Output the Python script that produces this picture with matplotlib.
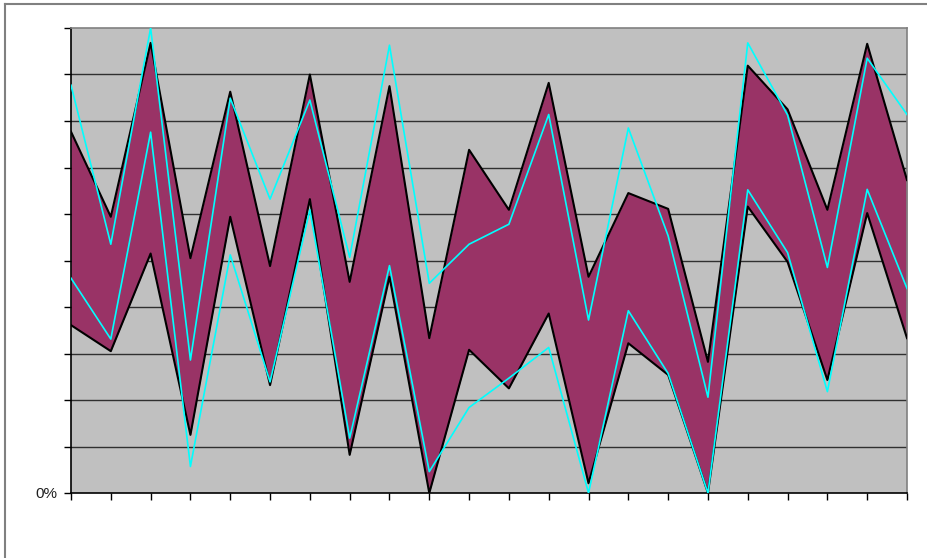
import numpy as np
import matplotlib
matplotlib.use("Agg")
import matplotlib.pyplot as plt
from matplotlib.lines import Line2D

# band limits and the two cyan series, in percent
upper = [77.7, 59.4, 96.8, 50.5, 86.3, 48.8, 90.0, 45.4, 87.5, 33.3, 73.8,
         60.9, 88.2, 46.5, 64.5, 61.1, 28.2, 91.9, 82.5, 60.9, 96.6, 67.3]
lower = [36.1, 30.5, 51.5, 12.5, 59.4, 23.2, 63.2, 8.2, 46.5, 0.0, 30.8,
         22.5, 38.6, 2.1, 32.2, 25.4, 0.0, 61.6, 49.7, 24.3, 60.2, 33.3]
cyan_hi = [87.7, 53.5, 100.0, 28.6, 84.9, 63.2, 84.5, 50.7, 96.3, 45.1, 53.5,
           57.8, 81.4, 37.2, 78.5, 55.3, 20.6, 96.8, 81.3, 48.5, 93.5, 81.4]
cyan_lo = [46.2, 33.1, 77.6, 5.7, 51.2, 23.9, 60.9, 11.8, 48.9, 4.6, 18.4,
           24.7, 31.3, 0.0, 39.2, 25.7, 0.0, 65.2, 51.7, 21.8, 65.3, 44.0]
y_ticks = np.arange(0, 101, 10)
y_labels = ["0%"] + [""] * 10

x = np.arange(len(upper))

fig = plt.figure(figsize=(9.27, 5.58), dpi=100)
fig.patch.set_facecolor("white")

# outer chart frame
fig.add_artist(Line2D([4.5 / 927, 4.5 / 927], [0, 1 - 3.5 / 558],
                      transform=fig.transFigure, color="#808080", lw=1.5))
fig.add_artist(Line2D([4.5 / 927, 1], [1 - 3.5 / 558, 1 - 3.5 / 558],
                      transform=fig.transFigure, color="#808080", lw=1.5))

ax = fig.add_axes([71 / 927, (558 - 493) / 558, 836 / 927, 465 / 558])
ax.set_facecolor("#C0C0C0")

for yv in y_ticks[1:-1]:
    ax.axhline(yv, color="#303030", lw=1.0, zorder=1)

ax.fill_between(x, lower, upper, color="#993366", lw=0, zorder=2)
ax.plot(x, upper, color="black", lw=1.5, zorder=3)
ax.plot(x, lower, color="black", lw=1.5, zorder=3)
ax.plot(x, cyan_hi, color="#00FFFF", lw=1.2, zorder=4)
ax.plot(x, cyan_lo, color="#00FFFF", lw=1.2, zorder=4)

ax.set_xlim(0, len(upper) - 1)
ax.set_ylim(0, 100)
ax.set_xticks(x)
ax.set_xticklabels([""] * len(x))
ax.set_yticks(y_ticks)
ax.set_yticklabels(y_labels, fontsize=11, family="Liberation Sans", color="#202020")
ax.tick_params(axis="both", direction="out", length=5, width=1, color="black", pad=5)

for side in ("left", "bottom"):
    ax.spines[side].set_color("black")
    ax.spines[side].set_linewidth(1.2)
for side in ("top", "right"):
    ax.spines[side].set_color("#808080")
    ax.spines[side].set_linewidth(1.2)

fig.savefig("out.png", dpi=100)
